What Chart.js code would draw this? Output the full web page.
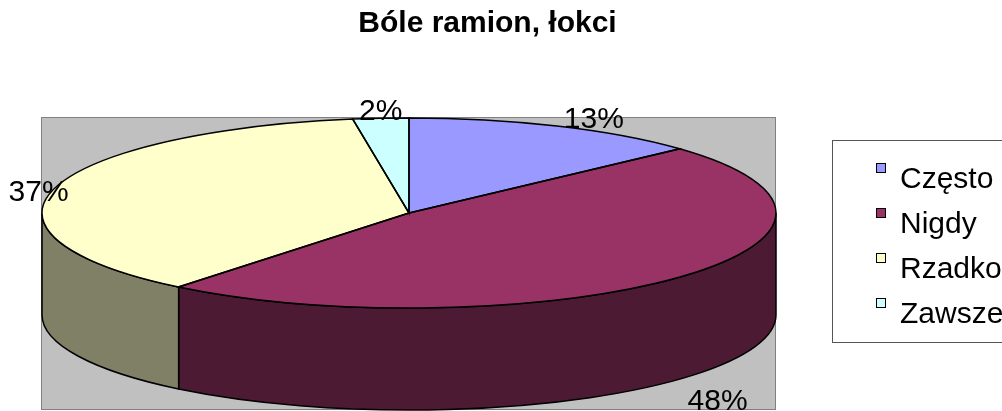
<!DOCTYPE html>
<html lang="pl">
<head>
  <meta charset="UTF-8" />
  <title>Bóle ramion, łokci</title>
  <script src="https://cdn.jsdelivr.net/npm/chart.js"></script>
  <style>
    body, html { margin: 0; background: #fff; }
    canvas { display: block; }
  </style>
</head>
<body>
  <canvas id="pie" width="1002" height="411"></canvas>

  <script>
    const categories = ['Często', 'Nigdy', 'Rzadko', 'Zawsze'];
    const values = [13.2, 47.6, 36.75, 2.45];
    const topColors = ['#9999FF', '#993366', '#FFFFCC', '#CCFFFF'];
    const sideColors = ['#4D4D80', '#4D1A33', '#808066', '#668080'];
    // offset of each % label from the rim point at the middle of its slice
    const labelOffsets = [[37, -6], [41, 22], [-16, 4], [0, -7]];

    const font = 'Liberation Sans';
    const cx = 409, cy = 213, rx = 367, ry = 95, depth = 102;

    // legend marker sits above the text line, so the point image is empty below it
    function marker(color) {
      const c = document.createElement('canvas');
      c.width = 10; c.height = 34;
      const g = c.getContext('2d');
      g.fillStyle = color;
      g.strokeStyle = '#000';
      g.fillRect(1, 1, 8, 8);
      g.strokeRect(0.5, 0.5, 9, 9);
      return c;
    }

    const pie3d = {
      id: 'pie3d',
      beforeDraw(chart) {
        const ctx = chart.ctx;
        ctx.save();
        ctx.fillStyle = '#C0C0C0';
        ctx.strokeStyle = '#808080';
        ctx.fillRect(42, 118, 733, 292);
        ctx.strokeRect(41.5, 117.5, 734, 292);
        ctx.strokeStyle = '#555';
        ctx.strokeRect(832.5, 140.5, 180, 202);
        ctx.restore();
      },
      afterLayout(chart) {
        const lg = chart.legend;
        lg.left = 862; lg.right = 1020; lg.top = 150; lg.bottom = 345;
        // title is centred on the pie + legend block, not on the page
        chart.titleBlock.left = 0;
        chart.titleBlock.right = 975;
      },
      beforeDatasetsDraw(chart) {
        const ctx = chart.ctx;
        const arcs = chart.getDatasetMeta(0).data;
        // walls first
        arcs.forEach((a, i) => {
          const from = Math.max(a.startAngle, 0), to = Math.min(a.endAngle, Math.PI);
          if (from >= to) return;
          ctx.beginPath();
          ctx.ellipse(cx, cy, rx, ry, 0, from, to);
          ctx.ellipse(cx, cy + depth, rx, ry, 0, to, from, true);
          ctx.closePath();
          ctx.fillStyle = sideColors[i];
          ctx.fill();
          ctx.lineWidth = 1.5;
          ctx.strokeStyle = '#000';
          ctx.stroke();
        });
        // squash the library's round pie into the top ellipse
        const a0 = arcs[0];
        ctx.save();
        ctx.translate(cx, cy);
        ctx.scale(rx / a0.outerRadius, ry / a0.outerRadius);
        ctx.translate(-a0.x, -a0.y);
      },
      afterDatasetsDraw(chart) {
        const ctx = chart.ctx;
        ctx.restore();
        const arcs = chart.getDatasetMeta(0).data;
        const total = values.reduce((s, v) => s + v, 0);
        arcs.forEach(a => {
          ctx.beginPath();
          ctx.moveTo(cx, cy);
          ctx.ellipse(cx, cy, rx, ry, 0, a.startAngle, a.endAngle);
          ctx.closePath();
          ctx.lineWidth = 1.5;
          ctx.strokeStyle = '#000';
          ctx.stroke();
        });
        ctx.save();
        ctx.font = '30px "' + font + '"';
        ctx.fillStyle = '#000';
        ctx.textAlign = 'center';
        ctx.textBaseline = 'middle';
        arcs.forEach((a, i) => {
          const mid = (a.startAngle + a.endAngle) / 2;
          const wall = Math.sin(mid) > 0 ? depth : 0;
          const x = cx + rx * Math.cos(mid) + labelOffsets[i][0];
          const y = cy + ry * Math.sin(mid) + wall + labelOffsets[i][1];
          ctx.fillText(Math.round(values[i] / total * 100) + '%', x, y);
        });
        ctx.restore();
      }
    };

    new Chart(document.getElementById('pie'), {
      type: 'pie',
      data: {
        labels: categories,
        datasets: [{
          data: values,
          backgroundColor: topColors,
          borderWidth: 0,
          clip: false
        }]
      },
      options: {
        responsive: false,
        animation: false,
        layout: { padding: 0 },
        plugins: {
          title: {
            display: true,
            text: 'Bóle ramion, łokci',
            color: '#000',
            font: { family: font, size: 30, weight: 'bold' },
            padding: { top: 6, bottom: 10 }
          },
          legend: {
            position: 'right',
            align: 'start',
            labels: {
              color: '#000',
              font: { family: font, size: 30 },
              usePointStyle: true,
              boxWidth: 8,
              boxHeight: 8,
              padding: 15,
              generateLabels: () => categories.map((c, i) => ({
                text: c,
                pointStyle: marker(topColors[i]),
                fontColor: '#000',
                index: i
              }))
            }
          },
          tooltip: { enabled: false }
        }
      },
      plugins: [pie3d]
    });
  </script>
</body>
</html>
